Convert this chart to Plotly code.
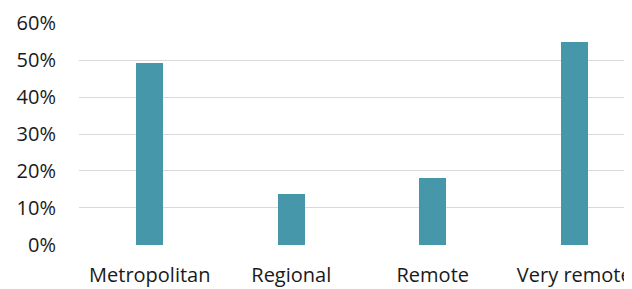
import plotly.graph_objects as go

categories = ["Metropolitan", "Regional", "Remote", "Very remote"]
values = [0.492, 0.138, 0.181, 0.549]
y_ticks = [0, 0.1, 0.2, 0.3, 0.4, 0.5, 0.6]
y_tick_labels = ["0%", "10%", "20%", "30%", "40%", "50%", "60%"]

fig = go.Figure(go.Bar(
    x=list(range(len(categories))),
    y=values,
    width=0.19,
    marker=dict(color="#4797aa", line=dict(width=0)),
))

fig.update_layout(
    width=624, height=281,
    margin=dict(l=71, r=0, t=15, b=44, autoexpand=False),
    paper_bgcolor="white", plot_bgcolor="white",
    font=dict(family="Open Sans, sans-serif", size=20, color="#1a1a1a"),
    showlegend=False,
    bargap=0,
)
fig.update_xaxes(
    tickvals=list(range(len(categories))), ticktext=categories,
    range=[-0.5, 3.408], showgrid=False, zeroline=False, showline=False,
    ticks="", ticklabelstandoff=16, automargin=False,
)
fig.update_yaxes(
    range=[-0.0005, 0.6005], tickvals=y_ticks, ticktext=y_tick_labels,
    showgrid=True, gridcolor="#d9d9d9", gridwidth=1.3,
    zeroline=False, showline=False, ticks="", ticklabelstandoff=22,
    automargin=False,
)

fig.write_html("out.html")
